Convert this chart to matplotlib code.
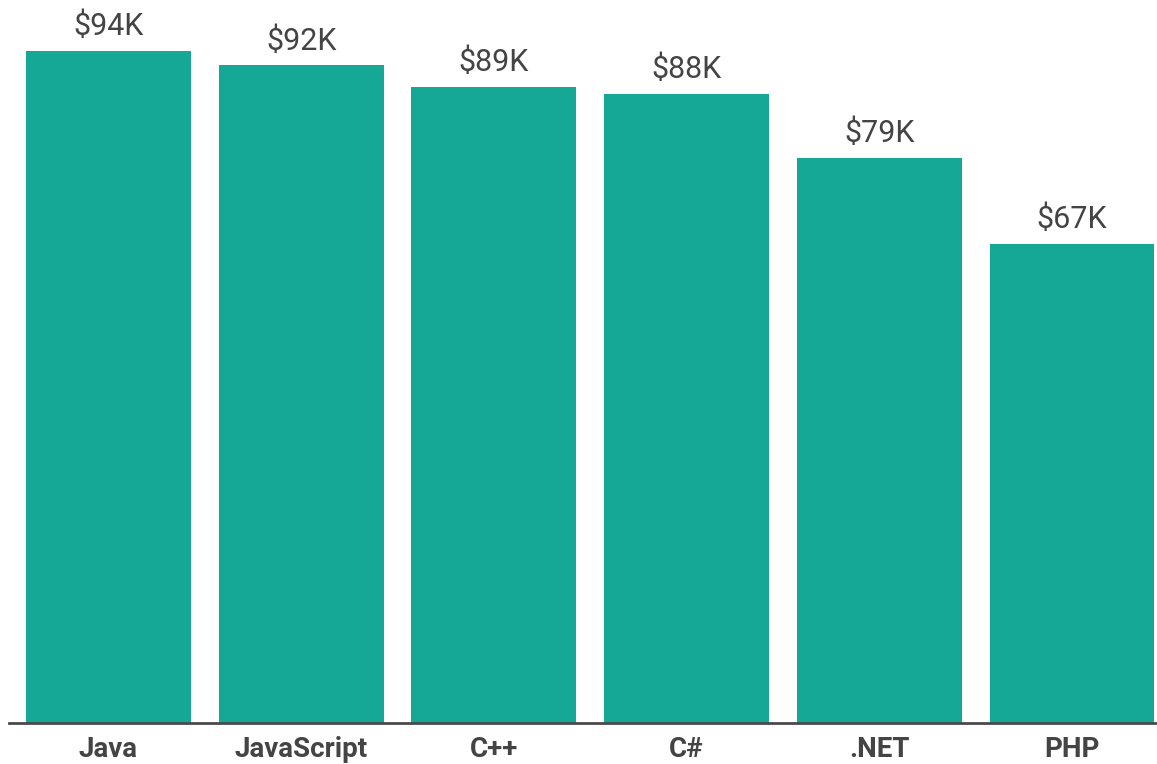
import matplotlib.pyplot as plt

# average salary by language, in thousands of dollars
languages = ['Java', 'JavaScript', 'C++', 'C#', '.NET', 'PHP']
salaries = [94, 92, 89, 88, 79, 67]

BAR_COLOR = '#16a896'
TEXT_COLOR = '#444444'

plt.rcParams['font.family'] = ['Roboto', 'DejaVu Sans']

fig = plt.figure(figsize=(11.57, 7.64), dpi=100)
ax = fig.add_axes([9 / 1157, 41.5 / 764, 1 - 9 / 1157, 722.5 / 764])

positions = list(range(len(languages)))
bars = ax.bar(positions, salaries, width=0.856, color=BAR_COLOR)

# value labels above each bar
for bar, value in zip(bars, salaries):
    ax.annotate(f'${value}K', (bar.get_x() + bar.get_width() / 2, value),
                xytext=(0, 7), textcoords='offset points',
                ha='center', va='bottom', fontsize=22, color=TEXT_COLOR)

ax.set_xlim(-0.516, 5.441)
ax.set_ylim(0, 101.15)
ax.set_xticks(positions)
ax.set_xticklabels(languages, fontsize=20, fontweight='bold', color=TEXT_COLOR)
ax.tick_params(axis='x', length=0, pad=10)
ax.set_yticks([])

for side in ['top', 'right', 'left']:
    ax.spines[side].set_visible(False)
ax.spines['bottom'].set_color('#4a4a4a')
ax.spines['bottom'].set_linewidth(2)

plt.savefig('out.png', dpi=100)
plt.close()
